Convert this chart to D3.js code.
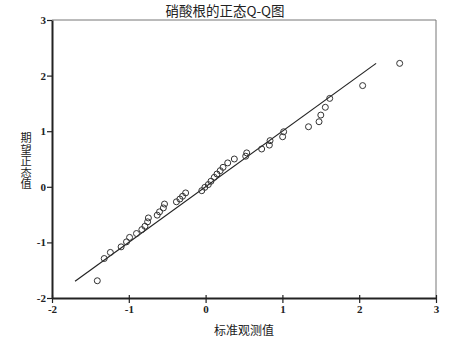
<!DOCTYPE html>
<html>
<head>
<meta charset="utf-8">
<script src="https://cdn.jsdelivr.net/npm/d3@7"></script>
<style>
  html, body { margin: 0; padding: 0; background: #fff; }
  svg { display: block; }
</style>
</head>
<body>
<svg id="chart" width="452" height="351"></svg>
<script>
const title = "硝酸根的正态Q-Q图";
const xLabel = "标准观测值";
const yLabel = "期望正态值";
const xTicks = [-2, -1, 0, 1, 2, 3];
const yTicks = [-2, -1, 0, 1, 2, 3];
const observed = [-1.41, -1.32, -1.24, -1.10, -1.03, -0.99, -0.90, -0.83, -0.79, -0.755, -0.745,
  -0.63, -0.60, -0.55, -0.535, -0.38, -0.335, -0.30, -0.26, -0.05, -0.01, 0.035, 0.07, 0.113,
  0.148, 0.19, 0.227, 0.288, 0.374, 0.522, 0.535, 0.73, 0.83, 0.839, 1.003, 1.016, 1.34, 1.477,
  1.50, 1.559, 1.616, 2.045, 2.527];
const expected = [-1.69, -1.29, -1.18, -1.08, -0.99, -0.91, -0.84, -0.77, -0.71, -0.63, -0.56,
  -0.51, -0.45, -0.38, -0.31, -0.27, -0.22, -0.17, -0.11, -0.07, -0.01, 0.04, 0.10, 0.17,
  0.23, 0.29, 0.35, 0.43, 0.50, 0.55, 0.61, 0.68, 0.75, 0.83, 0.90, 0.99, 1.08, 1.17,
  1.29, 1.43, 1.59, 1.82, 2.22];
const refLine = [-1.70, 2.22];

const svg = d3.select("#chart");
const L = 52, R = 436, T = 20, B = 298;
const x = d3.scaleLinear().domain([-2, 3]).range([L, R]);
const y = d3.scaleLinear().domain([-2, 3]).range([B, T]);

// frame top & right
svg.append("line").attr("x1", L).attr("x2", R).attr("y1", T).attr("y2", T)
  .attr("stroke", "#777").attr("stroke-width", 1);
svg.append("line").attr("x1", R).attr("x2", R).attr("y1", T).attr("y2", B)
  .attr("stroke", "#777").attr("stroke-width", 1);

const tickFont = "'Liberation Serif', 'DejaVu Serif', serif";

// x axis
const gx = svg.append("g").attr("transform", `translate(0,${B})`)
  .call(d3.axisBottom(x).tickValues(xTicks).tickSize(5).tickSizeOuter(0).tickFormat(d3.format("d")));
gx.select(".domain").attr("stroke", "#222").attr("stroke-width", 2);
gx.selectAll(".tick line").attr("stroke", "#222").attr("stroke-width", 1.2).attr("y1", -3);
gx.selectAll(".tick text").attr("font-family", tickFont).attr("font-weight", "bold")
  .attr("font-size", 11).attr("fill", "#222").attr("dy", "0.9em").attr("y", 5)
  .text(d => d < 0 ? "-" + Math.abs(d) : d);

// y axis
const gy = svg.append("g").attr("transform", `translate(${L},0)`)
  .call(d3.axisLeft(y).tickValues(yTicks).tickSize(5).tickSizeOuter(0).tickFormat(d3.format("d")));
gy.select(".domain").attr("stroke", "#222").attr("stroke-width", 2);
gy.selectAll(".tick line").attr("stroke", "#222").attr("stroke-width", 1.2);
gy.selectAll(".tick text").attr("font-family", tickFont).attr("font-weight", "bold")
  .attr("font-size", 11).attr("fill", "#222").attr("x", -6)
  .text(d => d < 0 ? "-" + Math.abs(d) : d);

// reference line
svg.append("line")
  .attr("x1", x(refLine[0])).attr("y1", y(refLine[0]))
  .attr("x2", x(refLine[1])).attr("y2", y(refLine[1]))
  .attr("stroke", "#222").attr("stroke-width", 1.2);

// points
svg.append("g").selectAll("circle").data(observed.map((v, i) => [v, expected[i]]))
  .join("circle")
  .attr("cx", d => x(d[0])).attr("cy", d => y(d[1])).attr("r", 3)
  .attr("fill", "none").attr("stroke", "#333").attr("stroke-width", 1);

const cjk = "'Noto Sans CJK SC', sans-serif";
// title
svg.append("text").attr("x", 225).attr("y", 16).attr("text-anchor", "middle")
  .attr("font-family", cjk).attr("font-size", 13.5).attr("fill", "#222").text(title);

// x label
svg.append("text").attr("x", 244).attr("y", 335).attr("text-anchor", "middle")
  .attr("font-family", cjk).attr("font-size", 12).attr("fill", "#222").text(xLabel);

// y label: one text element, each character positioned by per-glyph x/y lists
const yChars = Array.from(yLabel);
svg.append("text")
  .attr("x", yChars.map(() => 20.5).join(" "))
  .attr("y", yChars.map((c, i) => 142 + i * 11.5).join(" "))
  .attr("font-family", cjk).attr("font-size", 11.2).attr("fill", "#222")
  .text(yLabel);
</script>
</body>
</html>
